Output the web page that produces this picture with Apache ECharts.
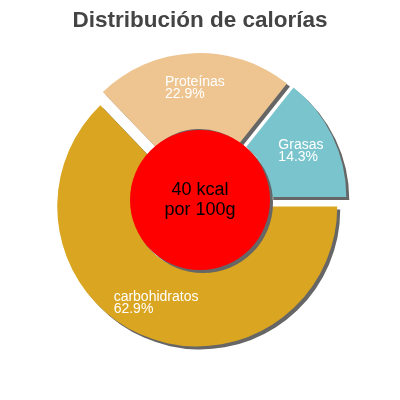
<!DOCTYPE html>
<html><head><meta charset="utf-8">
<script src="https://cdn.jsdelivr.net/npm/echarts@6/dist/echarts.min.js"></script>
<style>html,body{margin:0;padding:0;background:#fff}#c{width:400px;height:400px}</style>
</head><body><div id="c"></div>
<script>
const titleText = 'Distribución de calorías';
const categories = ['Grasas', 'Proteínas', 'carbohidratos'];
const percents = [14.3, 22.9, 62.9];
const colors = ['#7AC5CD', '#EEC591', '#DAA520'];
const centerLines = ['40 kcal', 'por 100g'];

const chart = echarts.init(document.getElementById('c'), null, {renderer: 'canvas'});
const shadow = {shadowColor: '#666', shadowOffsetX: 3, shadowOffsetY: 3, shadowBlur: 0};
chart.setOption({
  animation: false,
  title: {
    text: titleText, left: 'center', top: 4,
    textStyle: {fontFamily: 'Liberation Sans', fontSize: 22.5, fontWeight: 'bold', color: '#444'}
  },
  series: [{
    type: 'pie',
    center: ['50%', '50%'],
    radius: [64, 140],
    startAngle: 0,
    clockwise: false,
    selectedMode: 'multiple',
    selectedOffset: 7,
    avoidLabelOverlap: false,
    emphasis: {disabled: true},
    itemStyle: Object.assign({}, shadow),
    select: {itemStyle: Object.assign({}, shadow)},
    labelLine: {show: false},
    label: {
      show: true, position: 'inside',
      formatter: p => '{t|' + p.name + '}\n{t|' + p.value + '%}',
      rich: {t: {align: 'left', color: '#fff', fontSize: 14, lineHeight: 12, fontFamily: 'Liberation Sans'}}
    },
    data: categories.map((n, i) => ({name: n, value: percents[i], selected: true, itemStyle: {color: colors[i]}}))
  }, {
    type: 'pie',
    z: 5,
    silent: true,
    center: ['50%', '50%'],
    radius: [0, 70],
    emphasis: {disabled: true},
    labelLine: {show: false},
    itemStyle: Object.assign({color: '#FF0000'}, shadow),
    label: {
      show: true, position: 'center',
      formatter: centerLines.join('\n'),
      color: '#000', fontSize: 18, lineHeight: 20, fontFamily: 'Liberation Sans'
    },
    data: [{value: 1, name: 'centro'}]
  }]
});
</script></body></html>
